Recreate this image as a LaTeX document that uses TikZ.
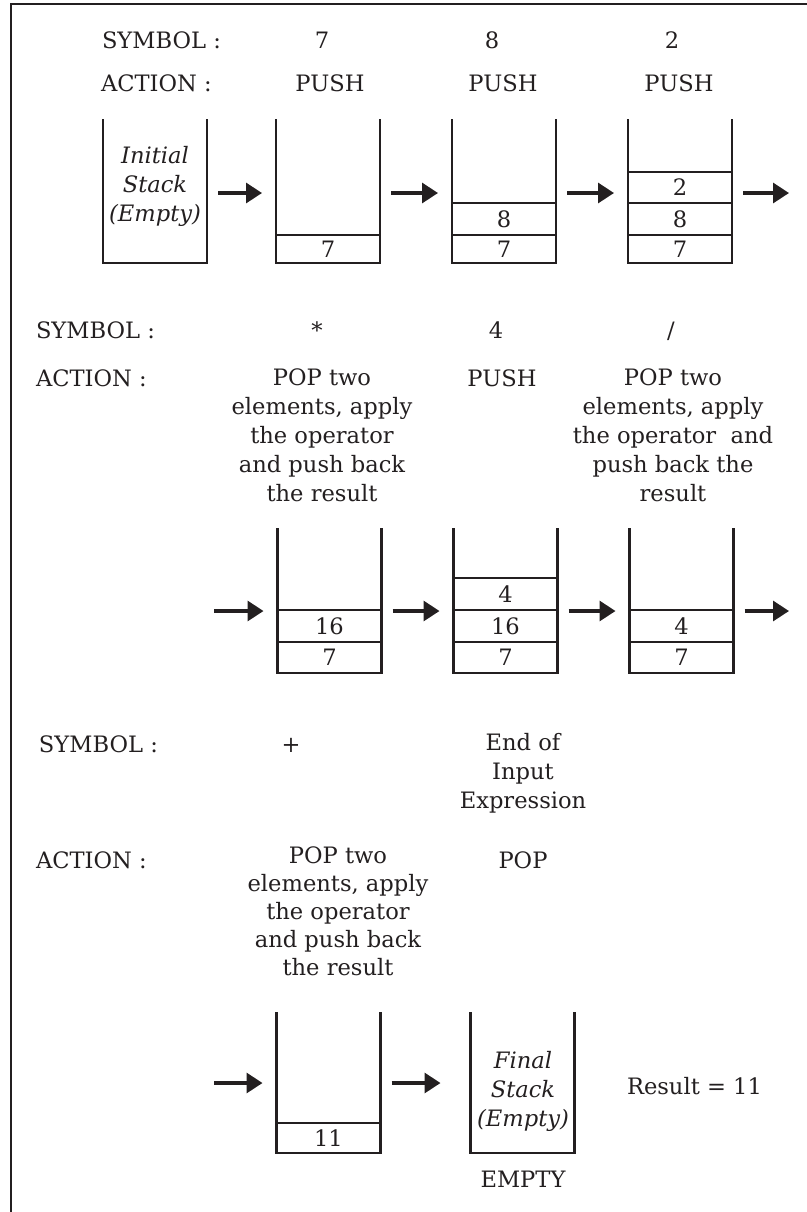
\documentclass[tikz,border=0pt]{standalone}
\usepackage{fontspec}
\setmainfont{DejaVu Serif}
\usetikzlibrary{arrows.meta,calc}
\definecolor{ink}{RGB}{35,31,32}
\begin{document}
\begin{tikzpicture}[x=0.5pt,y=-0.5pt,
  every node/.style={text=ink, font=\fontsize{11.3}{14.5}\selectfont, inner sep=0pt, outer sep=0pt},
  lbl/.style={anchor=base west},
  txt/.style={anchor=base},
  multi/.style={align=center, anchor=north},
  ital/.style={align=center, anchor=north, font=\fontsize{11.3}{14.5}\selectfont\itshape},
  stackbox/.style={minimum width=52pt, draw=none},
  cellbox/.style={minimum width=52pt},
  wall/.style={draw=ink, line width=1.4pt, line join=miter},
  sep/.style={draw=ink, line width=1.1pt},
  arr/.style={draw=ink, line width=1.6pt, -{Triangle[length=8pt,width=10pt]}, shorten <=5.5pt, shorten >=7pt},
]
\useasboundingbox (0,0) rectangle (807,1212);
% frame
\draw[ink, line width=1.1pt] (815,4) -- (11,4) -- (11,1220);

% ---------- row 1 ----------
\node[lbl] (sym1) at (102,48) {SYMBOL :};
\node[lbl] (act1) at (101,91) {ACTION :};
\node[txt] (v11) at (322,48) {7};
\node[txt] (v12) at (492,48) {8};
\node[txt] (v13) at (672,48) {2};
\node[txt] (p11) at (330,91) {PUSH};
\node[txt] (p12) at (503,91) {PUSH};
\node[txt] (p13) at (679,91) {PUSH};

\node[stackbox, minimum height=72pt] (s1) at (155,191) {};
\node[stackbox, minimum height=72pt] (s2) at (328,191) {};
\node[stackbox, minimum height=72pt] (s3) at (504,191) {};
\node[stackbox, minimum height=72pt] (s4) at (680,191) {};
\foreach \s in {s1,s2,s3,s4}
  \draw[wall] (\s.north west) -- (\s.south west) -- (\s.south east) -- (\s.north east);

\node[ital] (init) at (155,146.5) {Initial\\Stack\\(Empty)};

\node[cellbox, minimum height=14pt] (c21) at (328,249) {7};
\node[cellbox, minimum height=14pt] (c31) at (504,249) {7};
\node[cellbox, minimum height=16pt] (c32) at (504,219) {8};
\node[cellbox, minimum height=14pt] (c41) at (680,249) {7};
\node[cellbox, minimum height=16pt] (c42) at (680,219) {8};
\node[cellbox, minimum height=15.5pt] (c43) at (680,187.5) {2};
\foreach \c in {c21,c31,c32,c41,c42,c43}
  \draw[sep] (\c.north west) -- (\c.north east);

\coordinate (r1) at (0,193);
\coordinate (e1) at (789,193);
\draw[arr] (s1.east |- r1) -- (s2.west |- r1);
\draw[arr] (s2.east |- r1) -- (s3.west |- r1);
\draw[arr] (s3.east |- r1) -- (s4.west |- r1);
\draw[arr, shorten >=0pt] (s4.east |- r1) -- (e1);

% ---------- row 2 ----------
\node[lbl] (sym2) at (36,338) {SYMBOL :};
\node[lbl] (act2) at (36,386) {ACTION :};
\node[txt] (v21) at (317,338) {*};
\node[txt] (v22) at (496,338) {4};
\node[txt] (v23) at (671,338) {/};
\node[multi] (p21) at (322,368.5) {POP two\\elements, apply\\the operator\\and push back\\the result};
\node[txt] (p22) at (502,386) {PUSH};
\node[multi] (p23) at (673,368.5) {POP two\\elements, apply\\the operator~ and\\push back the\\result};

\node[stackbox, minimum height=72.5pt] (t1) at (329.5,600.5) {};
\node[stackbox, minimum height=72.5pt] (t2) at (505.5,600.5) {};
\node[stackbox, minimum height=72.5pt] (t3) at (681.5,600.5) {};
\foreach \s in {t1,t2,t3}
  \draw[wall] (\s.north west) -- (\s.south west) -- (\s.south east) -- (\s.north east);

\node[cellbox, minimum height=15.5pt] (d11) at (329.5,657.5) {7};
\node[cellbox, minimum height=16pt] (d12) at (329.5,626) {16};
\node[cellbox, minimum height=15.5pt] (d21) at (505.5,657.5) {7};
\node[cellbox, minimum height=16pt] (d22) at (505.5,626) {16};
\node[cellbox, minimum height=16pt] (d23) at (505.5,594) {4};
\node[cellbox, minimum height=15.5pt] (d31) at (681.5,657.5) {7};
\node[cellbox, minimum height=16pt] (d32) at (681.5,626) {4};
\foreach \c in {d11,d12,d21,d22,d23,d31,d32}
  \draw[sep] (\c.north west) -- (\c.north east);

\coordinate (r2) at (0,611);
\coordinate (b2) at (214,611);
\coordinate (e2) at (789,611);
\draw[arr, shorten <=0pt] (b2) -- (t1.west |- r2);
\draw[arr] (t1.east |- r2) -- (t2.west |- r2);
\draw[arr] (t2.east |- r2) -- (t3.west |- r2);
\draw[arr, shorten >=0pt] (t3.east |- r2) -- (e2);

% ---------- row 3 ----------
\node[lbl] (sym3) at (39,752) {SYMBOL :};
\node[txt] (v31) at (291,752) {+};
\node[multi] (v32) at (523,733.5) {End of\\Input\\Expression};
\node[lbl] (act3) at (36,868) {ACTION :};
\node[multi, font=\fontsize{11.3}{14}\selectfont] (p31) at (338,846.5) {POP two\\elements, apply\\the operator\\and push back\\the result};
\node[txt] (p32) at (523,868) {POP};

\node[stackbox, minimum height=70.5pt] (u1) at (328.5,1082.5) {};
\node[stackbox, minimum height=70.5pt] (u2) at (522.5,1082.5) {};
\foreach \s in {u1,u2}
  \draw[wall] (\s.north west) -- (\s.south west) -- (\s.south east) -- (\s.north east);

\node[cellbox, minimum height=15pt] (e11) at (328.5,1138) {11};
\draw[sep] (e11.north west) -- (e11.north east);

\node[ital] (fin) at (523,1051.5) {Final\\Stack\\(Empty)};
\node[lbl] (res) at (627,1094) {Result = 11};
\node[txt] (emp) at (523,1187) {EMPTY};

\coordinate (r3) at (0,1083);
\coordinate (b3) at (214,1083);
\draw[arr, shorten <=0pt] (b3) -- (u1.west |- r3);
\draw[arr, shorten >=15pt] (u1.east |- r3) -- (u2.west |- r3);
\end{tikzpicture}
\end{document}
